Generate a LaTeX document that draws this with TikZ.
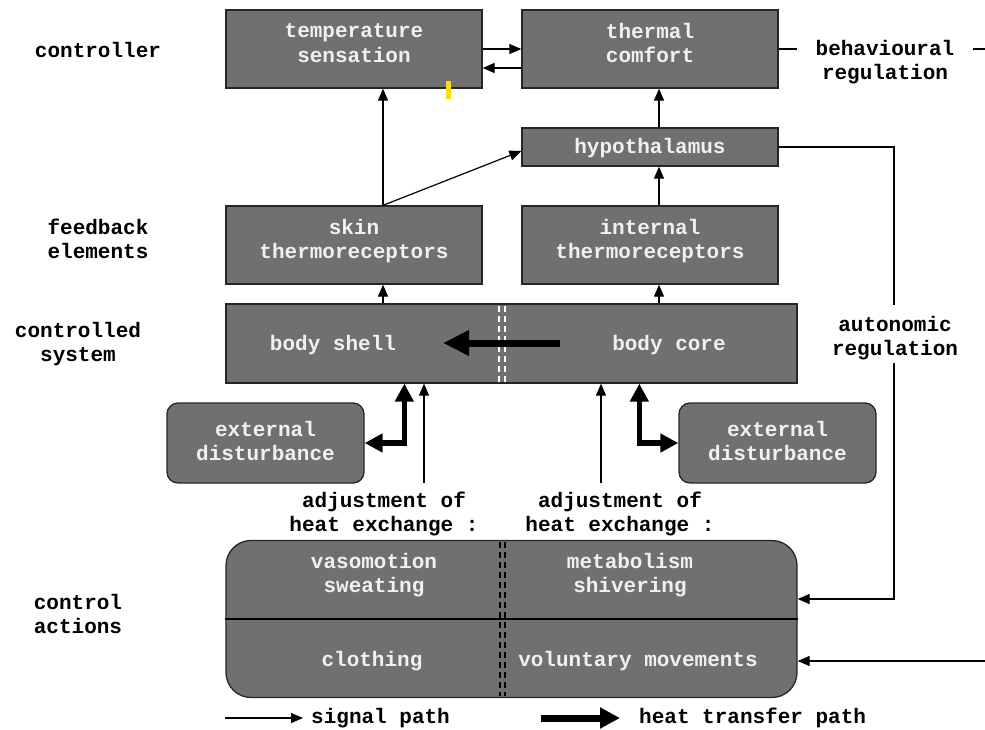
\documentclass[tikz,border=0pt]{standalone}
\usepackage{fontspec}
\setmainfont{Liberation Mono}
\usetikzlibrary{arrows.meta,calc}
\definecolor{boxgray}{RGB}{112,112,112}
\definecolor{txtwhite}{RGB}{240,240,240}
\definecolor{markyellow}{RGB}{250,220,20}
\begin{document}
\begin{tikzpicture}[x=1pt,y=-1pt,
  font=\fontsize{21}{24.5}\selectfont\bfseries,
  gbox/.style={draw=black!85,line width=1.3pt,fill=boxgray,text=txtwhite,align=center,inner sep=0pt},
  rbox/.style={gbox,rounded corners=11pt},
  lbl/.style={align=center,text=black,inner sep=0pt},
  wtxt/.style={align=center,text=txtwhite,inner sep=0pt},
  plain/.style={line width=1.2pt},
  sig/.style={line width=1.2pt,-{Triangle[length=12pt,width=10pt]}},
  heat/.style={line width=7pt,-{Triangle[length=26pt,width=24pt]}},
  heatd/.style={line width=5.5pt,{Triangle[length=18pt,width=18pt]}-{Triangle[length=18pt,width=18pt]}}
]
\useasboundingbox (0,0) rectangle (985,729);

% left labels
\node[lbl] (lc) at (98,50) {controller};
\node[lbl] (lf) at (98,239) {feedback\\elements};
\node[lbl] (ls) at (78,344) {controlled\\system};
\node[lbl] (la) at (78,614) {control\\actions};

% boxes
\node[gbox,minimum width=256pt,minimum height=78pt] (ts) at (354,49) {};
\node[wtxt] (tst) at (354,43) {temperature\\sensation};
\node[gbox,minimum width=256pt,minimum height=78pt] (tc) at (650,49) {};
\node[wtxt] (tct) at (650,43) {thermal\\comfort};
\node[gbox,minimum width=256pt,minimum height=38pt] (hyp) at (650,147) {};
\node[wtxt] (hypt) at (650,148) {hypothalamus};
\node[gbox,minimum width=256pt,minimum height=78pt] (skin) at (354,245) {};
\node[wtxt] (skt) at (354,241) {skin\\thermoreceptors};
\node[gbox,minimum width=256pt,minimum height=78pt] (int) at (650,245) {};
\node[wtxt] (intt) at (650,241) {internal\\thermoreceptors};
\node[gbox,minimum width=571pt,minimum height=79pt] (body) at (511.5,343.5) {};
\node[wtxt] (bs) at (333,345) {body shell};
\node[wtxt] (bc) at (669,345) {body core};
\node[rbox,minimum width=197pt,minimum height=80pt] (edl) at (265.5,443) {};
\node[wtxt] (edlt) at (265.5,441) {external\\disturbance};
\node[rbox,minimum width=197pt,minimum height=80pt] (edr) at (777.5,443) {};
\node[wtxt] (edrt) at (777.5,441) {external\\disturbance};
\node[gbox,rounded corners=25pt,minimum width=571pt,minimum height=157pt] (ctrl) at (511.5,619) {};

% yellow mark
\fill[markyellow] (446,81) rectangle (451,99);

% controller arrows
\draw[sig] (ts.east) -- (tc.west);
\draw[sig] ($(tc.west)+(0,19)$) -- ($(ts.east)+(0,19)$);

% behavioural regulation
\coordinate (b1) at (797,49);
\coordinate (b2) at (973,49);
\coordinate (b3) at (985,49);
\coordinate (b4) at (985,661);
\draw[plain] (tc.east) -- (b1);
\node[lbl] (beh) at (885,62) {behavioural\\regulation};
\draw[plain] (b2) -- (b3);
\draw[sig] (b4) -- ($(ctrl.east)+(0,42)$);

% feedback arrows
\coordinate (sk) at ($(skin.north)+(29,0)$);
\coordinate (ix) at ($(int.north)+(9,0)$);
\draw[sig] (sk) -- (sk |- ts.south);
\draw[sig] (sk) -- ($(hyp.west)+(0,4)$);
\draw[sig] ($(hyp.north)+(9,0)$) -- ($(tc.south)+(9,0)$);
\draw[sig] (ix) -- (ix |- hyp.south);
\draw[sig] (sk |- body.north) -- (sk |- skin.south);
\draw[sig] (ix |- body.north) -- (ix |- int.south);

% autonomic regulation
\coordinate (a1) at (894,147);
\coordinate (a2) at (894,305);
\coordinate (a3) at (894,363);
\draw[plain] (hyp.east) -- (a1) -- (a2);
\node[lbl] (aut) at (895,338) {autonomic\\regulation};
\draw[sig] (a3) |- ($(ctrl.east)+(0,-20)$);

% body internals
\draw[white,line width=1.6pt,dash pattern=on 6pt off 4pt] (499,306) -- (499,382);
\draw[white,line width=1.6pt,dash pattern=on 6pt off 4pt] (505,306) -- (505,382);
\coordinate (h1) at (560,343);
\coordinate (h2) at (443,343);
\draw[heat] (h1) -- (h2);

% external disturbance heat arrows
\draw[heatd] (edl.east) -| ($(body.south west)+(179,0)$);
\draw[heatd] ($(body.south west)+(414,0)$) |- (edr.west);

% adjustment arrows
\coordinate (al) at (424,483);
\coordinate (ar) at (601,483);
\draw[sig] (al) -- (al |- body.south);
\draw[sig] (ar) -- (ar |- body.south);
\node[lbl] (adl) at (384,514) {adjustment of\\heat exchange :};
\node[lbl] (adr) at (620,514) {adjustment of\\heat exchange :};

% control actions internals
\draw[line width=1.5pt] (ctrl.west) -- (ctrl.east);
\draw[black,line width=1.6pt,dash pattern=on 6pt off 4pt] (500,542) -- (500,696);
\draw[black,line width=1.6pt,dash pattern=on 6pt off 4pt] (505,542) -- (505,696);
\node[wtxt] (vs) at (374,575) {vasomotion\\sweating};
\node[wtxt] (ms) at (630,575) {metabolism\\shivering};
\node[wtxt] (cl) at (372,661) {clothing};
\node[wtxt] (vm) at (638,661) {voluntary movements};

% legend
\coordinate (s1) at (225,718);
\coordinate (s2) at (303,718);
\draw[sig] (s1) -- (s2);
\node[lbl,anchor=west] (sp) at (311,718) {signal path};
\coordinate (t1) at (541,718);
\coordinate (t2) at (620,718);
\draw[line width=7pt,-{Triangle[length=20pt,width=20pt]}] (t1) -- (t2);
\node[lbl,anchor=west] (tp) at (639,718) {heat transfer path};
\end{tikzpicture}
\end{document}
